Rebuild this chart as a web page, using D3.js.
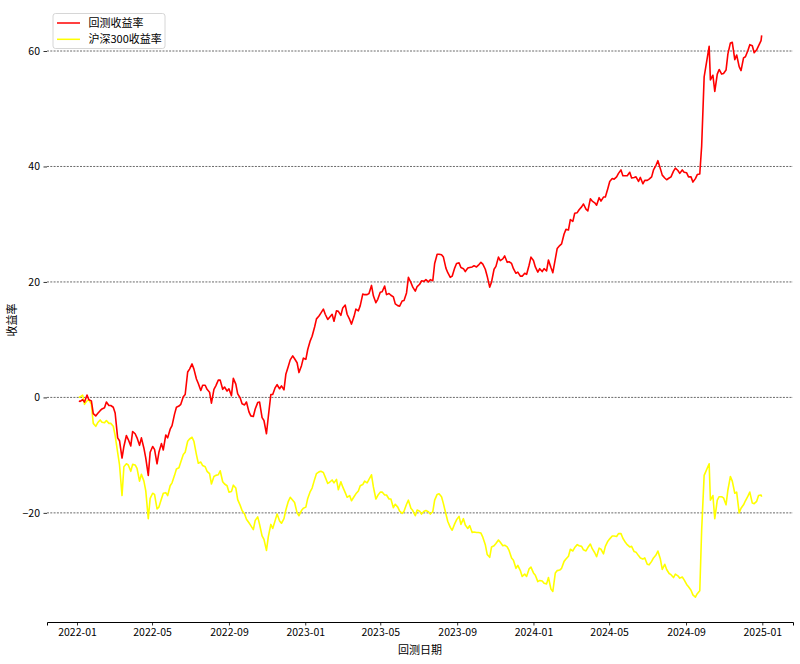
<!DOCTYPE html>
<html><head><meta charset="utf-8">
<script src="https://cdn.jsdelivr.net/npm/d3@7"></script>
<style>body{margin:0;background:#fff}svg{display:block}text{font-family:"Noto Sans CJK SC","DejaVu Sans",sans-serif}</style>
</head><body><svg id="c" width="800" height="664"></svg>
<script>
const dates = [
"2022-01-04","2022-01-06","2022-01-10","2022-01-13","2022-01-17","2022-01-20","2022-01-24","2022-01-27",
"2022-01-31","2022-02-03","2022-02-07","2022-02-10","2022-02-14","2022-02-17","2022-02-21","2022-02-24",
"2022-02-28","2022-03-03","2022-03-07","2022-03-10","2022-03-14","2022-03-17","2022-03-21","2022-03-24",
"2022-03-28","2022-03-31","2022-04-04","2022-04-07","2022-04-11","2022-04-14","2022-04-18","2022-04-21",
"2022-04-25","2022-04-28","2022-05-02","2022-05-05","2022-05-09","2022-05-12","2022-05-16","2022-05-19",
"2022-05-23","2022-05-26","2022-05-30","2022-06-02","2022-06-06","2022-06-09","2022-06-13","2022-06-16",
"2022-06-20","2022-06-23","2022-06-27","2022-06-30","2022-07-04","2022-07-07","2022-07-11","2022-07-14",
"2022-07-18","2022-07-21","2022-07-25","2022-07-28","2022-08-01","2022-08-04","2022-08-08","2022-08-11",
"2022-08-15","2022-08-18","2022-08-22","2022-08-25","2022-08-29","2022-09-01","2022-09-05","2022-09-08",
"2022-09-12","2022-09-15","2022-09-19","2022-09-22","2022-09-26","2022-09-29","2022-10-03","2022-10-06",
"2022-10-10","2022-10-13","2022-10-17","2022-10-20","2022-10-24","2022-10-27","2022-10-31","2022-11-03",
"2022-11-07","2022-11-10","2022-11-14","2022-11-17","2022-11-21","2022-11-24","2022-11-28","2022-12-01",
"2022-12-05","2022-12-08","2022-12-12","2022-12-15","2022-12-19","2022-12-22","2022-12-26","2022-12-29",
"2023-01-02","2023-01-05","2023-01-09","2023-01-12","2023-01-16","2023-01-19","2023-01-23","2023-01-26",
"2023-01-30","2023-02-02","2023-02-06","2023-02-09","2023-02-13","2023-02-16","2023-02-20","2023-02-23",
"2023-02-27","2023-03-02","2023-03-06","2023-03-09","2023-03-13","2023-03-16","2023-03-20","2023-03-23",
"2023-03-27","2023-03-30","2023-04-03","2023-04-06","2023-04-10","2023-04-13","2023-04-17","2023-04-20",
"2023-04-24","2023-04-27","2023-05-01","2023-05-04","2023-05-08","2023-05-11","2023-05-15","2023-05-18",
"2023-05-22","2023-05-25","2023-05-29","2023-06-01","2023-06-05","2023-06-08","2023-06-12","2023-06-15",
"2023-06-19","2023-06-22","2023-06-26","2023-06-29","2023-07-03","2023-07-06","2023-07-10","2023-07-13",
"2023-07-17","2023-07-20","2023-07-24","2023-07-27","2023-07-31","2023-08-03","2023-08-07","2023-08-10",
"2023-08-14","2023-08-17","2023-08-21","2023-08-24","2023-08-28","2023-08-31","2023-09-04","2023-09-07",
"2023-09-11","2023-09-14","2023-09-18","2023-09-21","2023-09-25","2023-09-28","2023-10-02","2023-10-05",
"2023-10-09","2023-10-12","2023-10-16","2023-10-19","2023-10-23","2023-10-26","2023-10-30","2023-11-02",
"2023-11-06","2023-11-09","2023-11-13","2023-11-16","2023-11-20","2023-11-23","2023-11-27","2023-11-30",
"2023-12-04","2023-12-07","2023-12-11","2023-12-14","2023-12-18","2023-12-21","2023-12-25","2023-12-28",
"2024-01-01","2024-01-04","2024-01-08","2024-01-11","2024-01-15","2024-01-18","2024-01-22","2024-01-25",
"2024-01-29","2024-02-01","2024-02-05","2024-02-08","2024-02-12","2024-02-15","2024-02-19","2024-02-22",
"2024-02-26","2024-02-29","2024-03-04","2024-03-07","2024-03-11","2024-03-14","2024-03-18","2024-03-21",
"2024-03-25","2024-03-28","2024-04-01","2024-04-04","2024-04-08","2024-04-11","2024-04-15","2024-04-18",
"2024-04-22","2024-04-25","2024-04-29","2024-05-02","2024-05-06","2024-05-09","2024-05-13","2024-05-16",
"2024-05-20","2024-05-23","2024-05-27","2024-05-30","2024-06-03","2024-06-06","2024-06-10","2024-06-13",
"2024-06-17","2024-06-20","2024-06-24","2024-06-27","2024-07-01","2024-07-04","2024-07-08","2024-07-11",
"2024-07-15","2024-07-18","2024-07-22","2024-07-25","2024-07-29","2024-08-01","2024-08-05","2024-08-08",
"2024-08-12","2024-08-15","2024-08-19","2024-08-22","2024-08-26","2024-08-29","2024-09-02","2024-09-05",
"2024-09-09","2024-09-12","2024-09-16","2024-09-19","2024-09-23","2024-09-26","2024-09-30",
"2024-10-08","2024-10-10","2024-10-14","2024-10-17","2024-10-21","2024-10-24","2024-10-28","2024-10-31",
"2024-11-04","2024-11-07","2024-11-11","2024-11-14","2024-11-18","2024-11-21","2024-11-25","2024-11-28",
"2024-12-02","2024-12-05","2024-12-09","2024-12-12","2024-12-16","2024-12-19","2024-12-23","2024-12-26","2024-12-30","2024-12-31"
];
const strategyReturn = [
-0.6,-0.7,-0.4,-0.8,0.4,-0.4,-0.6,-2.8,
-3.2,-2.8,-2.3,-2.0,-1.8,-0.8,-1.4,-1.4,
-1.7,-2.7,-7.0,-7.5,-10.5,-8.5,-6.6,-7.3,
-8.4,-5.9,-6.3,-7.0,-8.3,-7.0,-8.8,-10.5,
-13.5,-9.5,-8.5,-9.0,-11.5,-9.5,-8.0,-9.1,
-6.5,-7.0,-5.5,-4.9,-2.9,-1.7,-1.5,-1.2,
0.1,0.5,4.4,4.9,5.8,4.9,3.2,2.4,
1.2,2.1,2.1,1.4,0.9,-1.0,1.4,2.0,
3.0,3.0,1.4,1.8,1.1,1.5,0.3,3.3,
2.3,0.6,-0.1,-1.1,-1.3,-0.8,-2.5,-3.2,
-3.3,-2.0,-0.9,-0.8,-3.5,-4.0,-6.3,-3.3,
0.5,0.5,1.7,2.2,1.5,2.0,1.3,4.0,
5.4,6.5,7.2,6.7,6.0,4.3,5.5,6.8,
6.6,8.3,9.8,10.6,12.2,13.6,14.1,14.6,
15.3,14.4,13.5,13.9,14.4,13.2,15.0,14.9,
14.2,15.5,16.0,14.4,13.5,12.7,14.0,15.3,
15.0,15.9,17.9,17.8,17.8,18.0,19.4,17.6,
16.4,17.0,18.2,18.3,19.3,17.8,18.0,17.7,
17.4,16.2,15.9,15.8,16.7,16.8,18.1,20.8,
19.9,19.1,18.4,19.2,19.6,20.2,20.1,20.4,
20.0,20.4,20.2,23.2,24.8,24.8,24.7,24.3,
22.4,21.6,20.8,21.0,22.4,23.2,23.3,22.5,
22.3,21.8,22.4,22.5,22.6,22.8,22.6,22.9,
23.4,23.1,22.2,21.0,19.1,20.0,22.2,22.7,
24.3,23.7,24.0,24.5,23.4,23.5,23.2,22.3,
21.5,21.7,21.0,21.0,21.5,21.3,22.9,24.3,
23.7,22.6,21.7,22.3,21.8,22.3,21.9,23.8,
22.5,21.6,24.0,25.8,26.3,26.6,28.3,29.1,
29.0,30.8,30.5,31.9,32.0,32.5,33.0,33.5,
32.6,32.3,34.4,34.0,33.7,33.3,34.6,34.0,
34.7,34.7,36.2,37.4,37.9,37.8,38.2,38.8,
39.4,38.4,38.4,38.4,39.0,38.0,38.1,38.2,
37.4,38.1,37.0,37.6,37.6,37.8,38.2,39.4,
40.2,41.0,39.6,38.5,38.0,37.7,38.0,38.2,
39.2,39.7,39.3,38.8,39.4,39.0,38.9,38.2,
38.2,37.3,37.9,38.6,38.7,43.5,55.5,
60.8,55.0,55.8,53.0,56.0,56.8,56.0,56.1,
56.7,59.5,61.4,61.5,58.5,59.3,57.3,56.6,
58.8,59.0,60.1,61.1,60.9,59.7,60.2,60.9,61.8,62.7
];
const benchmarkReturn = [
0.0,0.1,0.4,-1.2,-0.6,-0.4,-1.2,-4.5,
-5.0,-4.4,-3.9,-4.3,-4.4,-4.0,-4.5,-4.5,
-5.0,-6.6,-9.5,-11.7,-17.0,-12.0,-11.5,-11.7,
-12.8,-11.6,-11.7,-12.3,-14.5,-13.3,-14.5,-16.2,
-21.0,-17.5,-16.6,-16.8,-19.3,-19.0,-17.6,-16.6,
-16.5,-17.0,-15.3,-14.8,-13.5,-12.4,-12.2,-11.2,
-9.9,-9.5,-7.6,-7.2,-6.9,-7.6,-9.9,-11.4,
-11.2,-11.8,-12.0,-12.8,-13.2,-15.0,-13.7,-13.5,
-13.4,-12.7,-14.6,-15.0,-15.3,-16.4,-16.3,-15.2,
-15.7,-17.7,-18.7,-19.6,-20.2,-21.1,-21.7,-22.2,
-22.9,-21.3,-20.7,-22.0,-24.0,-24.6,-26.5,-24.1,
-22.0,-22.7,-21.3,-20.2,-21.4,-21.8,-21.0,-19.5,
-18.0,-17.3,-17.8,-18.2,-20.0,-20.5,-19.6,-19.2,
-19.0,-17.5,-16.3,-15.7,-14.2,-13.2,-12.9,-12.8,
-13.0,-13.8,-14.9,-14.7,-14.3,-14.8,-14.2,-16.0,
-14.6,-15.5,-16.5,-17.3,-17.0,-17.9,-17.2,-16.7,
-16.2,-15.3,-15.1,-14.5,-14.8,-14.2,-13.4,-15.5,
-17.6,-17.0,-16.4,-16.4,-16.9,-16.9,-17.6,-17.6,
-19.1,-18.5,-19.0,-19.7,-20.1,-19.7,-18.5,-17.8,
-19.2,-19.6,-20.5,-19.5,-19.7,-20.2,-19.7,-19.6,
-19.8,-20.2,-19.8,-17.8,-16.8,-16.7,-17.2,-18.4,
-20.2,-21.5,-22.5,-23.0,-21.9,-21.2,-20.6,-22.0,
-21.0,-22.1,-22.7,-22.2,-23.4,-23.3,-23.4,-23.4,
-23.5,-24.2,-25.5,-27.2,-27.7,-25.9,-25.7,-25.3,
-24.7,-25.1,-25.7,-25.6,-25.9,-26.5,-27.8,-28.2,
-29.6,-29.1,-30.0,-31.0,-30.6,-31.0,-29.7,-29.4,
-30.4,-30.8,-31.9,-31.7,-31.8,-32.2,-32.3,-31.2,
-33.2,-33.6,-30.4,-30.0,-29.9,-29.6,-28.4,-28.0,
-27.5,-26.3,-26.6,-26.0,-25.5,-25.7,-25.8,-26.4,
-26.6,-26.0,-25.4,-26.2,-26.9,-27.6,-26.1,-26.3,
-27.1,-25.8,-24.9,-24.5,-24.0,-24.0,-24.1,-23.6,
-23.6,-24.4,-25.1,-25.5,-25.9,-25.8,-26.7,-26.8,
-27.4,-27.8,-28.0,-27.8,-28.9,-29.0,-28.4,-27.8,
-27.3,-26.6,-28.0,-29.8,-28.9,-29.8,-30.5,-30.7,
-31.2,-30.6,-30.9,-31.3,-31.1,-31.6,-32.4,-32.8,
-33.4,-34.2,-34.6,-34.0,-33.5,-23.0,-13.5,
-11.5,-17.8,-17.0,-21.0,-17.8,-17.2,-17.2,-17.4,
-18.6,-16.0,-13.7,-14.5,-16.6,-16.4,-20.0,-19.2,
-18.6,-17.9,-17.1,-16.4,-18.3,-18.4,-18.0,-17.0,-16.9,-17.2
];
const seriesNames = ["回测收益率", "沪深300收益率"];
const seriesColors = ["#ff0000", "#ffff00"];
const xTickLabels = ["2022-01","2022-05","2022-09","2023-01","2023-05","2023-09","2024-01","2024-05","2024-09","2025-01"];
const yTickValues = [-20, 0, 20, 40, 60];
const xAxisTitle = "回测日期";
const yAxisTitle = "收益率";

(function () {
const parse = d3.timeParse("%Y-%m-%d");
const parseM = d3.timeParse("%Y-%m");
const n = Math.min(dates.length, strategyReturn.length, benchmarkReturn.length);
const rows = d3.range(n).map(i => ({d: parse(dates[i]), a: strategyReturn[i], b: benchmarkReturn[i]}));

const svg = d3.select("#c");
const pLeft = 47, pRight = 793, pTop = 7.7, pBottom = 622;
const x0 = d3.scaleTime().domain([parseM("2022-01"), parseM("2025-01")]).range([77, 762.3]);
const x = d3.scaleTime().domain([x0.invert(pLeft), x0.invert(pRight)]).range([pLeft, pRight]);
const y = d3.scaleLinear().domain([-38.9, 67.5]).range([pBottom, pTop]);

svg.append("g").selectAll("line").data(yTickValues).join("line")
  .attr("x1", pLeft).attr("x2", pRight)
  .attr("y1", d => y(d)).attr("y2", d => y(d))
  .attr("stroke", "#444").attr("stroke-width", 0.8).attr("stroke-dasharray", "2,1.3");

const line = key => d3.line().x(d => x(d.d)).y(d => y(d[key]));
svg.append("path").datum(rows).attr("d", line("b")).attr("fill", "none")
  .attr("stroke", seriesColors[1]).attr("stroke-width", 1.6).attr("stroke-linejoin", "round");
svg.append("path").datum(rows).attr("d", line("a")).attr("fill", "none")
  .attr("stroke", seriesColors[0]).attr("stroke-width", 1.6).attr("stroke-linejoin", "round");

const xAxis = d3.axisBottom(x).tickValues(xTickLabels.map(parseM))
  .tickFormat(d3.timeFormat("%Y-%m")).tickSizeOuter(0).tickSize(3.5).tickPadding(3.5);
const gx = svg.append("g").attr("transform", `translate(0,${pBottom})`).call(xAxis);
gx.select(".domain").attr("stroke", "#000").attr("stroke-width", 1);
gx.selectAll(".tick line").attr("stroke", "#000").attr("stroke-width", 0.8);
gx.selectAll("text").attr("font-size", 10.5).attr("fill", "#000");

const yAxis = d3.axisLeft(y).tickValues(yTickValues).tickSize(3.5).tickPadding(3.5).tickSizeOuter(0);
const gy = svg.append("g").attr("transform", `translate(${pLeft},0)`).call(yAxis);
gy.select(".domain").remove();
gy.selectAll(".tick line").attr("stroke", "#000").attr("stroke-width", 0.8);
gy.selectAll("text").attr("font-size", 10.5).attr("fill", "#000");

svg.append("text").attr("x", 420).attr("y", 654).attr("text-anchor", "middle")
  .attr("font-size", 11).text(xAxisTitle);
svg.append("text").attr("transform", "translate(16,320) rotate(-90)").attr("text-anchor", "middle")
  .attr("font-size", 11).text(yAxisTitle);

const lg = svg.append("g");
lg.append("rect").attr("x", 53).attr("y", 13.5).attr("width", 112).attr("height", 35)
  .attr("rx", 2.5).attr("fill", "#fff").attr("fill-opacity", 0.8).attr("stroke", "#ccc").attr("stroke-width", 0.8);
seriesNames.forEach((s, i) => {
  const yy = 23 + i * 16.3;
  lg.append("line").attr("x1", 57).attr("x2", 80).attr("y1", yy).attr("y2", yy)
    .attr("stroke", seriesColors[i]).attr("stroke-width", 1.5);
  lg.append("text").attr("x", 88.5).attr("y", yy).attr("dy", "0.35em")
    .attr("font-size", 11).text(s);
});
})();
</script></body></html>
